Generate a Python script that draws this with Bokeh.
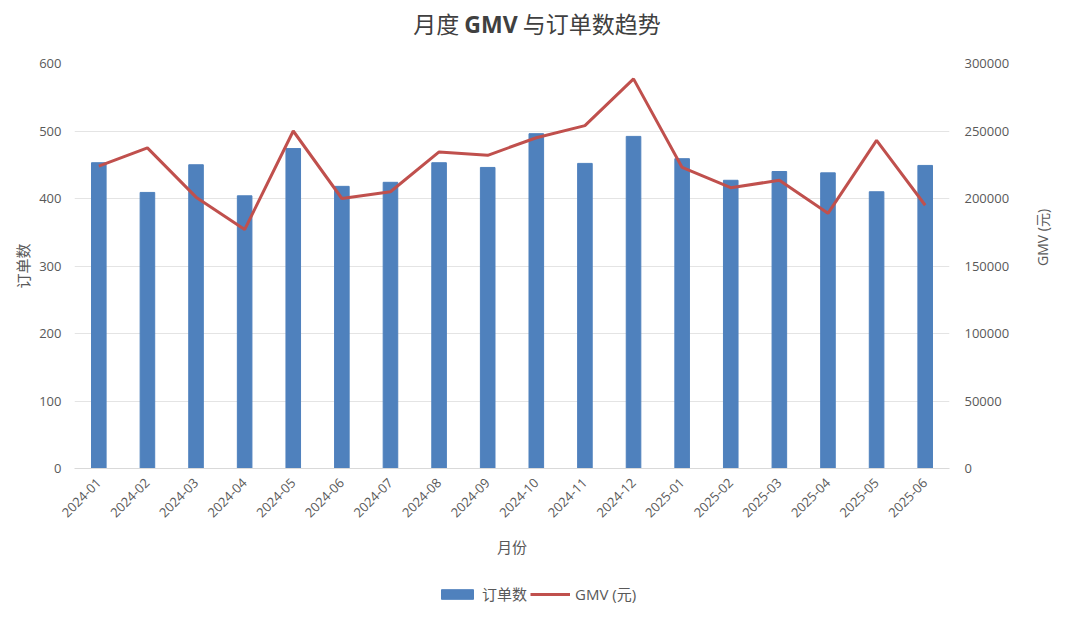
import math
from bokeh.plotting import figure
from bokeh.layouts import column
from bokeh.models import (Range1d, LinearAxis, SingleIntervalTicker, BasicTickFormatter,
                          Legend, LegendItem, FactorRange, Div, ColumnDataSource)
from bokeh.embed import file_html
from bokeh.resources import INLINE

months = ["2024-01", "2024-02", "2024-03", "2024-04", "2024-05", "2024-06",
          "2024-07", "2024-08", "2024-09", "2024-10", "2024-11", "2024-12",
          "2025-01", "2025-02", "2025-03", "2025-04", "2025-05", "2025-06"]
orders = [453, 409, 450, 404, 474, 418, 424, 453, 446, 496, 452, 492,
          459, 427, 440, 438, 410, 449]
gmv = [224000, 237500, 201000, 177000, 250000, 200000, 205000, 234500, 232000,
       245000, 254000, 288600, 223000, 208000, 213500, 189000, 243000, 195000]

title_parts = ["月度", "GMV", "与订单数趋势"]
x_title = "月份"
left_title = "订单数"
right_title = "GMV (元)"

FONT = "Open Sans, Noto Sans CJK SC"
CJK = "Noto Sans CJK SC, Open Sans"
TXT = "#595959"
BAR_COLOR = "#4F81BD"
LINE_COLOR = "#C0504D"

DIV_H = 40
TOP = 13
BOTTOM = 112
MAIN_H = TOP + 405 + BOTTOM
LEG_H = 28

title_div = Div(
    text=(f'{title_parts[0]} <b style="font-family:\'Open Sans\',sans-serif">{title_parts[1]}</b> '
          f'{title_parts[2]}'),
    width=1064, height=DIV_H,
    styles={"text-align": "center", "font-size": "23px", "color": "#404040",
            "font-family": "'Noto Sans CJK SC', sans-serif", "line-height": "36px",
            "width": "1064px"})

p = figure(x_range=FactorRange(*months), y_range=Range1d(0, 600),
           width=1064, height=MAIN_H, output_backend="svg", toolbar_location=None,
           min_border_left=74, min_border_right=100, min_border_top=TOP,
           min_border_bottom=BOTTOM)
p.outline_line_color = None
p.extra_y_ranges = {"gmv": Range1d(0, 300000)}

bars = p.vbar(x=months, top=orders, width=0.3, color=BAR_COLOR)
line = p.line(x=months, y=gmv, y_range_name="gmv", color=LINE_COLOR, line_width=3)

# left axis
ax = p.yaxis[0]
ax.ticker = SingleIntervalTicker(interval=100)
ax.axis_label = left_title
ax.axis_label_text_font = CJK
ax.axis_label_text_font_style = "normal"
ax.axis_label_text_font_size = "15px"
ax.axis_label_text_color = TXT
ax.axis_label_standoff = 3
ax.axis_line_color = None
ax.major_tick_line_color = None
ax.minor_tick_line_color = None
ax.major_label_text_font = FONT
ax.major_label_text_font_size = "13px"
ax.major_label_text_color = TXT
ax.major_label_standoff = 7

# right axis
ax2 = LinearAxis(y_range_name="gmv", ticker=SingleIntervalTicker(interval=50000),
                 formatter=BasicTickFormatter(use_scientific=False))
ax2.axis_label = right_title
ax2.axis_label_text_font = FONT
ax2.axis_label_text_font_style = "normal"
ax2.axis_label_text_font_size = "14px"
ax2.axis_label_text_color = TXT
ax2.axis_label_standoff = 30
if "axis_label_orientation" in ax2.properties():
    ax2.axis_label_orientation = math.pi / 2
ax2.axis_line_color = None
ax2.major_tick_line_color = None
ax2.minor_tick_line_color = None
ax2.major_label_text_font = FONT
ax2.major_label_text_font_size = "13px"
ax2.major_label_text_color = TXT
ax2.major_label_standoff = 9
p.add_layout(ax2, "right")

# x axis
xa = p.xaxis[0]
xa.axis_label = x_title
xa.axis_label_text_font = CJK
xa.axis_label_text_font_style = "normal"
xa.axis_label_text_font_size = "15px"
xa.axis_label_text_color = TXT
xa.axis_label_standoff = 12
xa.axis_line_color = "#d9d9d9"
xa.major_tick_line_color = None
xa.minor_tick_line_color = None
xa.major_label_orientation = math.pi / 4
xa.major_label_text_font = FONT
xa.major_label_text_font_size = "13px"
xa.major_label_text_color = TXT
xa.major_label_standoff = 6

p.xgrid.grid_line_color = None
p.ygrid.grid_line_color = "#e4e4e4"
p.ygrid.grid_line_width = 1

# legend strip (its frame is aligned with the main plot's frame)
lf = figure(width=1064, height=LEG_H, output_backend="svg", toolbar_location=None,
            x_range=Range1d(0, 1), y_range=Range1d(0, 1), min_border=0,
            x_axis_type=None, y_axis_type=None)
lf.outline_line_color = None
lf.xgrid.grid_line_color = None
lf.ygrid.grid_line_color = None
offscreen = ColumnDataSource(data=dict(x=[-10.0], y=[-10.0]))
lbar = lf.vbar(x="x", top="y", width=0.3, color=BAR_COLOR, source=offscreen)
lline = lf.line(x="x", y="y", color=LINE_COLOR, line_width=3, source=offscreen)
legend = Legend(items=[LegendItem(label=left_title, renderers=[lbar]),
                       LegendItem(label=right_title, renderers=[lline])],
                orientation="horizontal", location=(363, 4),
                border_line_color=None, background_fill_alpha=0,
                padding=0, margin=0, spacing=3, label_standoff=5,
                glyph_width=40, glyph_height=12,
                label_text_font=FONT, label_text_font_size="15px",
                label_text_color=TXT)
lf.add_layout(legend, "center")

open("out.html", "w").write(file_html(column(title_div, p, lf), INLINE))
